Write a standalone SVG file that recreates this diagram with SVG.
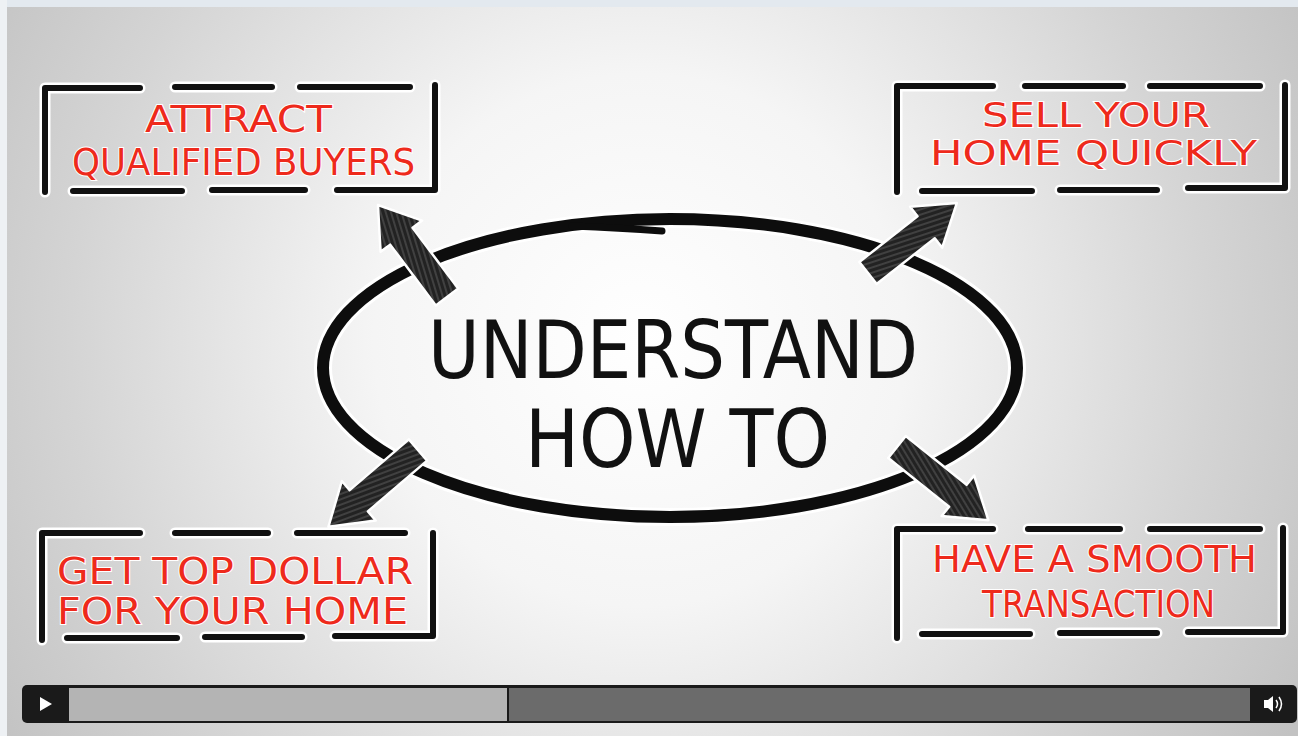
<svg xmlns="http://www.w3.org/2000/svg" width="1298" height="736" viewBox="0 0 1298 736">
<style>
.halo{fill:none;stroke:#ffffff;stroke-width:11;stroke-linecap:round;stroke-linejoin:round}
.ink{fill:none;stroke:#111111;stroke-width:6;stroke-linecap:round;stroke-linejoin:round}
.lbl{font-family:"DejaVu Sans","Liberation Sans",sans-serif;font-size:38px;fill:#ee2a1c;stroke:#ffffff;stroke-width:2;paint-order:stroke}
.big{font-family:"DejaVu Sans","Liberation Sans",sans-serif;font-size:80px;fill:#111111;font-weight:normal}
.arrow{fill:url(#hatch);stroke:#ffffff;stroke-width:2.5;stroke-linejoin:round}
</style>
<defs>
<radialGradient id="bg" cx="640" cy="340" r="760" gradientUnits="userSpaceOnUse">
<stop offset="0" stop-color="#ffffff"/>
<stop offset="0.35" stop-color="#f5f5f5"/>
<stop offset="0.75" stop-color="#d4d4d4"/>
<stop offset="1" stop-color="#c2c2c2"/>
</radialGradient>
<pattern id="hatch" width="5" height="5" patternUnits="userSpaceOnUse" patternTransform="rotate(20)">
<rect width="5" height="5" fill="#222222"/>
<line x1="0" y1="1" x2="5" y2="1" stroke="#6e6e6e" stroke-width="0.8"/>
</pattern>
</defs>
<rect x="0" y="0" width="1298" height="736" fill="url(#bg)"/>
<rect x="0" y="0" width="1298" height="7" fill="#e3e9ef"/>
<rect x="0" y="0" width="7" height="736" fill="#eef1f4"/>

<g id="center">
<ellipse cx="670" cy="368" rx="347" ry="149" fill="none" stroke="#ffffff" stroke-width="18"/>
<path d="M572,226 Q620,228 662,231" fill="none" stroke="#ffffff" stroke-width="12" stroke-linecap="round"/>
<ellipse cx="670" cy="368" rx="347" ry="149" fill="none" stroke="#0d0d0d" stroke-width="12"/>
<path d="M572,226 Q620,228 662,231" fill="none" stroke="#0d0d0d" stroke-width="7" stroke-linecap="round"/>
<text class="big" x="428" y="378" textLength="490" lengthAdjust="spacingAndGlyphs">UNDERSTAND</text>
<text class="big" x="525" y="467" textLength="305" lengthAdjust="spacingAndGlyphs">HOW TO</text>
</g>

<g id="connectors">
<polygon class="arrow" transform="translate(447,297) rotate(-126.9)" points="0,-14 76,-14 76,-26 115,0 76,26 76,14 0,14"/>
<polygon class="arrow" transform="translate(868,273) rotate(-38.2)" points="0,-14 74,-14 74,-26 113,0 74,26 74,14 0,14"/>
<polygon class="arrow" transform="translate(418,450) rotate(139.4)" points="0,-14 78,-14 78,-26 118,0 78,26 78,14 0,14"/>
<polygon class="arrow" transform="translate(897,447) rotate(38.7)" points="0,-14 78,-14 78,-26 117,0 78,26 78,14 0,14"/>
</g>

<g id="box-attract">
<path class="halo" d="M45,192 V88 H140 M175,87 H272 M300,87 H410 M435,85 V190 H337 M305,190 H212 M182,191 H73"/>
<path class="ink" d="M45,192 V88 H140 M175,87 H272 M300,87 H410 M435,85 V190 H337 M305,190 H212 M182,191 H73"/>
<text class="lbl" x="145" y="132" textLength="187" lengthAdjust="spacingAndGlyphs">ATTRACT</text>
<text class="lbl" x="72" y="175" textLength="343" lengthAdjust="spacingAndGlyphs">QUALIFIED BUYERS</text>
</g>

<g id="box-sell">
<path class="halo" d="M897,192 V86 H993 M1025,86 H1123 M1150,86 H1260 M1285,85 V188 H1188 M1157,190 H1060 M1032,191 H922"/>
<path class="ink" d="M897,192 V86 H993 M1025,86 H1123 M1150,86 H1260 M1285,85 V188 H1188 M1157,190 H1060 M1032,191 H922"/>
<text class="lbl" x="982" y="127" textLength="228" lengthAdjust="spacingAndGlyphs" style="font-size:33px">SELL YOUR</text>
<text class="lbl" x="930" y="165" textLength="327" lengthAdjust="spacingAndGlyphs" style="font-size:33px">HOME QUICKLY</text>
</g>

<g id="box-dollar">
<path class="halo" d="M42,640 V533 H140 M175,533 H268 M297,533 H405 M433,533 V636 H335 M302,637 H205 M177,638 H67"/>
<path class="ink" d="M42,640 V533 H140 M175,533 H268 M297,533 H405 M433,533 V636 H335 M302,637 H205 M177,638 H67"/>
<text class="lbl" x="57" y="584" textLength="356" lengthAdjust="spacingAndGlyphs">GET TOP DOLLAR</text>
<text class="lbl" x="57" y="624" textLength="351" lengthAdjust="spacingAndGlyphs">FOR YOUR HOME</text>
</g>

<g id="box-smooth">
<path class="halo" d="M897,638 V529 H993 M1028,529 H1120 M1150,529 H1260 M1283,528 V632 H1188 M1157,633 H1060 M1030,634 H922"/>
<path class="ink" d="M897,638 V529 H993 M1028,529 H1120 M1150,529 H1260 M1283,528 V632 H1188 M1157,633 H1060 M1030,634 H922"/>
<text class="lbl" x="932" y="572" textLength="325" lengthAdjust="spacingAndGlyphs">HAVE A SMOOTH</text>
<text class="lbl" x="982" y="617" textLength="233" lengthAdjust="spacingAndGlyphs">TRANSACTION</text>
</g>

<g id="player">
<rect x="22" y="685" width="1275" height="38" rx="5" fill="#1a1a1a"/>
<rect x="69" y="688" width="438" height="33" fill="#b4b4b4"/>
<rect x="509" y="688" width="741" height="33" fill="#6b6b6b"/>
<polygon points="40,697 52,704 40,711" fill="#ffffff"/>
<polygon points="1264,700 1268,700 1273,696 1273,712 1268,708 1264,708" fill="#ffffff"/>
<path d="M1276,700 Q1279,704 1276,708 M1279,697 Q1284,704 1279,711" fill="none" stroke="#ffffff" stroke-width="1.5"/>
</g>
</svg>
